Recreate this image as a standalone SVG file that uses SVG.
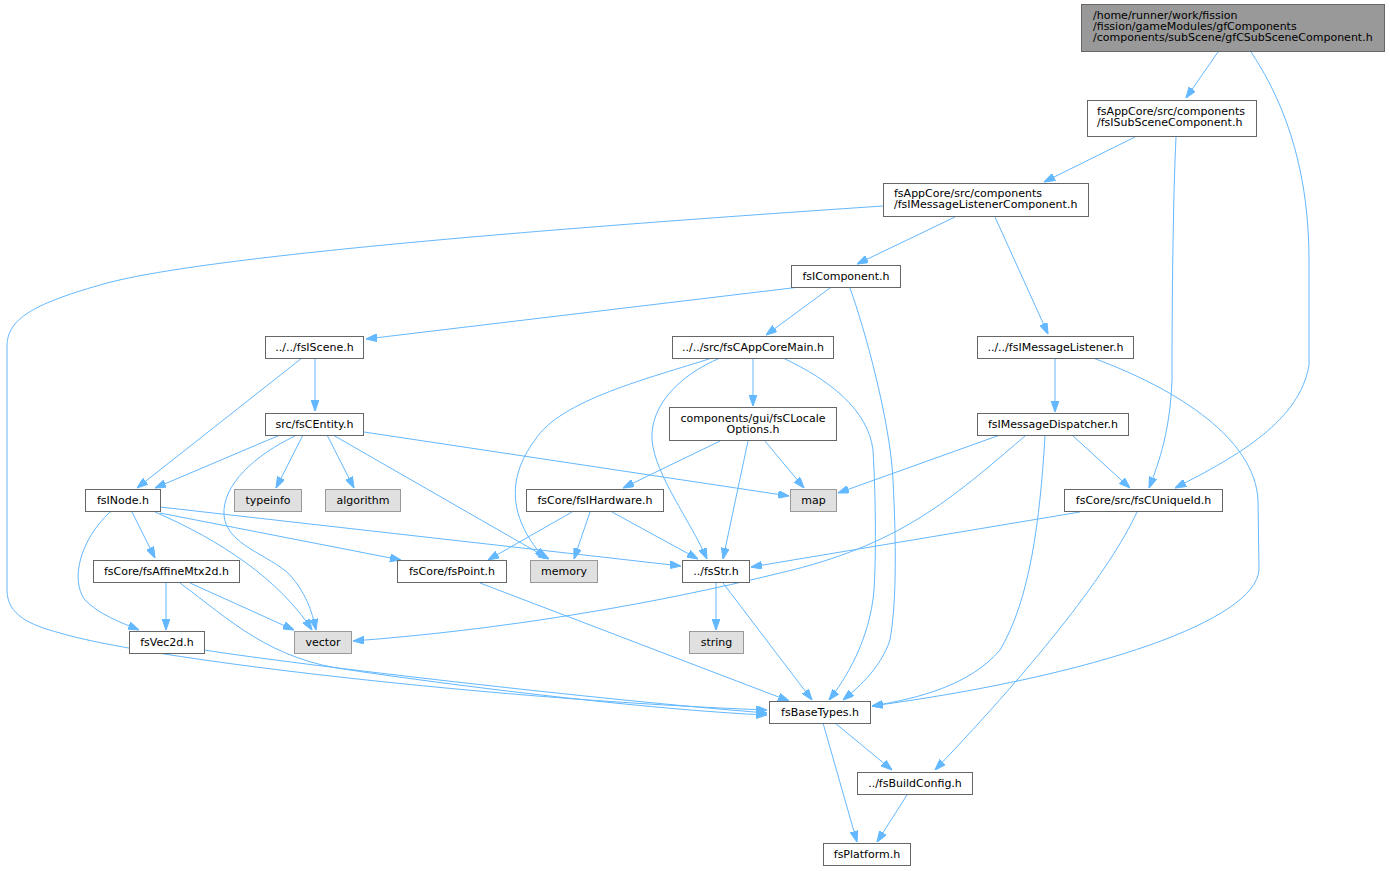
<svg xmlns="http://www.w3.org/2000/svg" width="1390" height="871" viewBox="0 0 1390 871">
<style>
.n rect{fill:#ffffff;stroke:#666666;stroke-width:1}
.s rect{fill:#e0e0e0;stroke:#999999;stroke-width:1}
.r rect{fill:#999999;stroke:#666666;stroke-width:1}
text{font-family:"DejaVu Sans","Liberation Sans",sans-serif;font-size:11px;fill:#000000}
.c{text-anchor:middle}
#edges path{fill:none;stroke:#63b8ff;stroke-width:1;marker-end:url(#a)}
</style>
<defs>
<marker id="a" viewBox="0 0 10 7" refX="10" refY="3.5" markerWidth="11" markerHeight="8" orient="auto" markerUnits="userSpaceOnUse"><path d="M0,0 L10,3.5 L0,7 z" fill="#63b8ff" stroke="#63b8ff"/></marker>
</defs>
<rect width="1390" height="871" fill="#ffffff"/>
<g id="edges">
<path d="M1218,52 L1186,98"/>
<path d="M1251,52 C1290,110 1309,180 1309,260 L1309,365 C1300,420 1240,455 1175,488"/>
<path d="M1135,137 L1044,182"/>
<path d="M1176,137 C1173,200 1172,300 1172,380 C1170,430 1160,460 1149,488"/>
<path d="M955,217 L857,264"/>
<path d="M995,217 L1048,334"/>
<path d="M883,206 C600,225 200,255 100,285 C30,305 8,320 7,345 L7,590 C7,615 30,625 60,633 C150,660 500,700 767,710"/>
<path d="M800,287 L366,339"/>
<path d="M830,288 L766,335"/>
<path d="M850,288 C865,330 890,420 893,480 C896,540 897,600 890,640 C880,670 855,690 843,700"/>
<path d="M315,358 L315,411"/>
<path d="M302,358 L137,488"/>
<path d="M280,435 L155,488"/>
<path d="M303,435 L276,488"/>
<path d="M327,435 L354,488"/>
<path d="M364,432 L789,496"/>
<path d="M333,435 L549,559"/>
<path d="M295,436 C255,455 222,485 224,515 C226,545 270,555 290,575 C305,592 312,610 316,630"/>
<path d="M132,512 L155,558"/>
<path d="M110,512 C80,540 70,580 85,600 C100,615 120,622 139,630"/>
<path d="M155,512 C220,540 280,580 312,630"/>
<path d="M160,513 L401,560"/>
<path d="M160,507 L681,566"/>
<path d="M166,583 L166,630"/>
<path d="M190,583 L294,630"/>
<path d="M180,583 C230,620 270,660 350,670 C450,685 650,710 767,715"/>
<path d="M204,650 C300,665 600,700 767,713"/>
<path d="M480,583 L789,701"/>
<path d="M753,358 L753,406"/>
<path d="M712,358 C650,378 560,400 535,440 C505,480 510,520 545,559"/>
<path d="M720,358 C680,375 650,405 652,440 C655,475 690,520 707,559"/>
<path d="M783,358 C830,380 868,410 873,450 C876,500 876,560 874,590 C870,640 845,680 829,700"/>
<path d="M720,441 L623,488"/>
<path d="M748,441 L723,559"/>
<path d="M765,441 L804,488"/>
<path d="M572,512 L488,560"/>
<path d="M590,512 L574,559"/>
<path d="M612,512 L698,559"/>
<path d="M716,583 L716,630"/>
<path d="M723,583 L812,700"/>
<path d="M1055,358 L1055,412"/>
<path d="M1093,358 C1180,390 1255,440 1258,500 L1259,570 C1255,620 1100,675 872,706"/>
<path d="M1000,435 L838,493"/>
<path d="M1072,435 L1130,488"/>
<path d="M1025,436 C950,500 900,545 780,573 C650,605 500,630 353,641"/>
<path d="M1045,436 C1040,520 1030,600 1000,650 C970,685 920,698 872,706"/>
<path d="M1080,512 L751,567"/>
<path d="M1137,512 C1110,570 1040,660 935,770"/>
<path d="M835,723 L892,770"/>
<path d="M823,723 L857,842"/>
<path d="M907,795 L877,842"/>
</g>
<g id="root" class="r"><rect x="1081.5" y="4.5" width="303" height="47"/><text x="1093" y="19">/home/runner/work/fission</text><text x="1093" y="30">/fission/gameModules/gfComponents</text><text x="1093" y="41">/components/subScene/gfCSubSceneComponent.h</text></g>
<g id="n_sub" class="n"><rect x="1087.5" y="100.5" width="169" height="36"/><text x="1097" y="115">fsAppCore/src/components</text><text x="1097" y="126">/fsISubSceneComponent.h</text></g>
<g id="n_mlc" class="n"><rect x="883.5" y="183.5" width="205" height="33"/><text x="894" y="197">fsAppCore/src/components</text><text x="894" y="208">/fsIMessageListenerComponent.h</text></g>
<g id="n_comp" class="n"><rect x="791.5" y="265.5" width="109" height="22"/><text class="c" x="846" y="280">fsIComponent.h</text></g>
<g id="n_scene" class="n"><rect x="265.5" y="336.5" width="98" height="22"/><text class="c" x="314.5" y="351">../../fsIScene.h</text></g>
<g id="n_entity" class="n"><rect x="265.5" y="413.5" width="98" height="22"/><text class="c" x="314.5" y="428">src/fsCEntity.h</text></g>
<g id="n_main" class="n"><rect x="672.5" y="336.5" width="161" height="22"/><text class="c" x="753" y="351">../../src/fsCAppCoreMain.h</text></g>
<g id="n_locale" class="n"><rect x="669.5" y="407.5" width="167" height="33"/><text class="c" x="753" y="422">components/gui/fsCLocale</text><text class="c" x="753" y="433">Options.h</text></g>
<g id="n_ml" class="n"><rect x="977.5" y="336.5" width="156" height="22"/><text class="c" x="1055.5" y="351">../../fsIMessageListener.h</text></g>
<g id="n_disp" class="n"><rect x="977.5" y="413.5" width="151" height="22"/><text class="c" x="1053" y="428">fsIMessageDispatcher.h</text></g>
<g id="n_node" class="n"><rect x="85.5" y="489.5" width="75" height="22"/><text class="c" x="123" y="504">fsINode.h</text></g>
<g id="n_typeinfo" class="s"><rect x="234.5" y="489.5" width="67" height="22"/><text class="c" x="268" y="504">typeinfo</text></g>
<g id="n_algorithm" class="s"><rect x="325.5" y="489.5" width="75" height="22"/><text class="c" x="363" y="504">algorithm</text></g>
<g id="n_hw" class="n"><rect x="526.5" y="489.5" width="137" height="22"/><text class="c" x="595" y="504">fsCore/fsIHardware.h</text></g>
<g id="n_map" class="s"><rect x="790.5" y="489.5" width="46" height="22"/><text class="c" x="813.5" y="504">map</text></g>
<g id="n_uid" class="n"><rect x="1064.5" y="489.5" width="158" height="22"/><text class="c" x="1143.5" y="504">fsCore/src/fsCUniqueId.h</text></g>
<g id="n_affine" class="n"><rect x="93.5" y="560.5" width="146" height="22"/><text class="c" x="166.5" y="575">fsCore/fsAffineMtx2d.h</text></g>
<g id="n_point" class="n"><rect x="397.5" y="560.5" width="109" height="22"/><text class="c" x="452" y="575">fsCore/fsPoint.h</text></g>
<g id="n_memory" class="s"><rect x="530.5" y="560.5" width="67" height="22"/><text class="c" x="564" y="575">memory</text></g>
<g id="n_str" class="n"><rect x="682.5" y="560.5" width="67" height="22"/><text class="c" x="716" y="575">../fsStr.h</text></g>
<g id="n_vec2d" class="n"><rect x="129.5" y="631.5" width="75" height="22"/><text class="c" x="167" y="646">fsVec2d.h</text></g>
<g id="n_vector" class="s"><rect x="294.5" y="631.5" width="57" height="22"/><text class="c" x="323" y="646">vector</text></g>
<g id="n_string" class="s"><rect x="689.5" y="631.5" width="54" height="22"/><text class="c" x="716.5" y="646">string</text></g>
<g id="n_bt" class="n"><rect x="769.5" y="701.5" width="101" height="22"/><text class="c" x="820" y="716">fsBaseTypes.h</text></g>
<g id="n_bc" class="n"><rect x="857.5" y="772.5" width="115" height="22"/><text class="c" x="915" y="787">../fsBuildConfig.h</text></g>
<g id="n_plat" class="n"><rect x="823.5" y="843.5" width="87" height="22"/><text class="c" x="867" y="858">fsPlatform.h</text></g>
</svg>
